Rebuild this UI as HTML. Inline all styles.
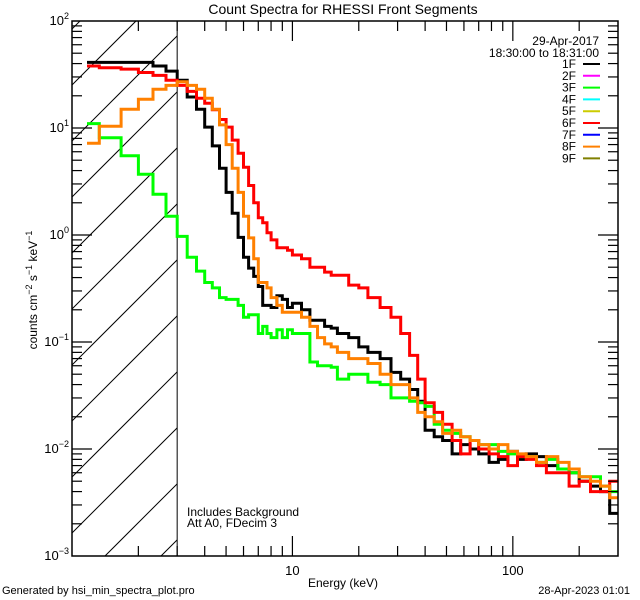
<!DOCTYPE html>
<html><head><meta charset="utf-8"><style>
body{margin:0;background:#fff;overflow:hidden;}
svg{display:block;font-family:"Liberation Sans",sans-serif;}
</style></head><body>
<svg id="chart" width="640" height="600" viewBox="0 0 640 600" xmlns="http://www.w3.org/2000/svg">
<rect width="640" height="600" fill="#fff"/>
<text x="343" y="14" font-size="14" text-anchor="middle">Count Spectra for RHESSI Front Segments</text>
<g id="hatch"></g>
<g id="series"></g>
<g id="axes"></g>
<text x="343" y="587" font-size="12" text-anchor="middle">Energy (keV)</text>
<text transform="translate(37,290) rotate(-90)" font-size="12" text-anchor="middle">counts cm<tspan dy="-5" font-size="9">−2</tspan><tspan dy="5"> s</tspan><tspan dy="-5" font-size="9">−1</tspan><tspan dy="5"> keV</tspan><tspan dy="-5" font-size="9">−1</tspan></text>
<text x="187" y="516" font-size="12">Includes Background</text>
<text x="187" y="527" font-size="12">Att A0, FDecim 3</text>
<text x="2" y="594" font-size="11">Generated by hsi_min_spectra_plot.pro</text>
<text x="630" y="594" font-size="11" text-anchor="end">28-Apr-2023 01:01</text>
<g id="legend">
<text x="599" y="45" font-size="12" text-anchor="end">29-Apr-2017</text>
<text x="599" y="57" font-size="12" text-anchor="end">18:30:00 to 18:31:00</text>
</g>
</svg>
<script>
const edges=[1.17,1.33,1.67,2,2.33,2.67,3,3.33,3.67,4,4.33,4.67,5,5.33,5.67,6,6.33,6.67,7,7.33,7.67,8,8.5,9,9.5,10,11,12,13,14,15,16,18,20,22,25,28,31,34,37,40,44,48,53,58,64,70,78,86,95,105,115,128,142,160,180,200,225,250,275,300];
const black1F=[41,41,41,41,38,34,28,19.5,15,10.2,6.8,4.2,2.5,1.6,0.95,0.62,0.49,0.41,0.33,0.22,0.22,0.21,0.27,0.25,0.21,0.23,0.2,0.16,0.16,0.14,0.135,0.12,0.11,0.09,0.08,0.07,0.052,0.045,0.036,0.028,0.015,0.013,0.012,0.009,0.011,0.01,0.009,0.0075,0.008,0.0095,0.008,0.009,0.0085,0.007,0.0065,0.006,0.005,0.0045,0.004,0.0025];
const green3F=[11,8.1,5.5,3.7,2.4,1.5,0.97,0.62,0.46,0.36,0.32,0.26,0.25,0.25,0.22,0.17,0.18,0.18,0.12,0.14,0.12,0.11,0.13,0.11,0.13,0.12,0.12,0.065,0.06,0.06,0.058,0.045,0.05,0.05,0.042,0.04,0.03,0.03,0.028,0.027,0.025,0.017,0.015,0.014,0.013,0.012,0.011,0.011,0.0095,0.009,0.0085,0.0085,0.0075,0.008,0.0065,0.006,0.0055,0.0055,0.0045,0.004];
const red6F=[38,36.5,35.5,33,31,28,25,22,19,17,14.8,12,10.2,7.7,5.8,4.3,2.9,2.0,1.45,1.3,1.05,0.9,0.76,0.76,0.72,0.65,0.6,0.5,0.5,0.45,0.42,0.42,0.34,0.32,0.26,0.21,0.17,0.12,0.075,0.045,0.027,0.022,0.017,0.012,0.009,0.012,0.01,0.009,0.0085,0.007,0.0085,0.008,0.007,0.006,0.006,0.0045,0.005,0.004,0.004,0.005];
const orange8F=[7.2,10.4,15,18.6,23,25,27,25,23,19,15,10.7,7,4.2,2.5,1.5,0.94,0.6,0.36,0.36,0.32,0.26,0.22,0.19,0.19,0.19,0.17,0.14,0.11,0.096,0.09,0.08,0.07,0.07,0.063,0.05,0.04,0.04,0.03,0.022,0.02,0.018,0.014,0.015,0.013,0.012,0.011,0.01,0.011,0.0095,0.009,0.0085,0.0075,0.0085,0.0075,0.0065,0.0055,0.005,0.0045,0.0035];
const legendLabels=["1F","2F","3F","4F","5F","6F","7F","8F","9F"];
const legendColors=["#000000","#ff00ff","#00ff00","#00ffff","#cccc00","#ff0000","#0000ff","#ff8000","#808000"];
const xTickMajor=[10,100];
const yTickExp=[2,1,0,-1,-2,-3];

const NS="http://www.w3.org/2000/svg";
const L=72,R=618,T=21,B=556,XMIN=1,XMAX=300,YMIN=-3,YMAX=2;
const xs=v=>L+(Math.log10(v)-Math.log10(XMIN))/(Math.log10(XMAX)-Math.log10(XMIN))*(R-L);
const ys=v=>B-(Math.log10(v)-YMIN)/(YMAX-YMIN)*(B-T);
function mk(tag,attrs,parent){const e=document.createElementNS(NS,tag);for(const k in attrs)e.setAttribute(k,attrs[k]);parent.appendChild(e);return e;}

// hatch
const hatch=document.getElementById('hatch');
const xc=xs(3);
for(let c=85-56*2;c<B+(xc-L)+56;c+=56){
  const xa=Math.max(L,L+c-B), xb=Math.min(xc,L+c-T);
  if(xb<=xa)continue;
  const ln=mk('line',{x1:xa,y1:c-(xa-L),x2:xb,y2:c-(xb-L),stroke:'#000','stroke-width':1},hatch);
  
  
}
const vl=mk('line',{x1:xc,y1:T,x2:xc,y2:B,stroke:'#000','stroke-width':1},hatch);



// series
const sg=document.getElementById('series');
function drawSeries(vals,color,name){
  let d='';
  for(let i=0;i<vals.length;i++){
    const x0=xs(edges[i]),x1=xs(edges[i+1]),y=Math.min(B,Math.max(T,ys(vals[i])));
    d+=(i===0?'M':'L')+x0.toFixed(1)+','+y.toFixed(1)+'L'+x1.toFixed(1)+','+y.toFixed(1);
  }
  const p=mk('path',{d:d,fill:'none',stroke:color,'stroke-width':3,'stroke-linejoin':'miter'},sg);
  
  
}
drawSeries(black1F,'#000000','series-1f');
drawSeries(green3F,'#00ff00','series-3f');
drawSeries(red6F,'#ff0000','series-6f');
drawSeries(orange8F,'#ff8000','series-8f');

// axes
const ax=document.getElementById('axes');
mk('rect',{x:L,y:T,width:R-L,height:B-T,fill:'none',stroke:'#000','stroke-width':1.5},ax);
for(let dec=0;dec<3;dec++){for(let m=1;m<10;m++){const v=m*Math.pow(10,dec);if(v<=XMIN||v>=XMAX)continue;
  const x=xs(v),len=(m===1)?20:10;
  const t1=mk('line',{x1:x,y1:B,x2:x,y2:B-len,stroke:'#000','stroke-width':1.2},ax);
  
  
  mk('line',{x1:x,y1:T,x2:x,y2:T+len,stroke:'#000','stroke-width':1.2},ax);
}}
xTickMajor.forEach(v=>{const t=mk('text',{x:xs(v),y:575,'font-size':13,'text-anchor':'middle'},ax);t.textContent=String(v);
  
  });
for(let e=YMIN;e<YMAX;e++){for(let m=1;m<10;m++){const v=m*Math.pow(10,e);const y=ys(v),len=(m===1)?20:10;
  if(m===1&&e===YMIN)continue;
  mk('line',{x1:L,y1:y,x2:L+len,y2:y,stroke:'#000','stroke-width':1.2},ax);
  mk('line',{x1:R,y1:y,x2:R-len,y2:y,stroke:'#000','stroke-width':1.2},ax);
}}
yTickExp.forEach(e=>{const t=mk('text',{x:L-3,y:ys(Math.pow(10,e))+4,'font-size':13,'text-anchor':'end'},ax);
  
  
  t.appendChild(document.createTextNode('10'));
  const s=mk('tspan',{dy:-6,'font-size':9},t);s.textContent=(e<0?'−':'')+Math.abs(e);
});

// legend
const lg=document.getElementById('legend');
legendLabels.forEach((lab,i)=>{const y=64+i*11.8;
  const t=mk('text',{x:576,y:y+4,'font-size':12,'text-anchor':'end'},lg);t.textContent=lab;
  
  
  const l=mk('line',{x1:583,y1:y,x2:600,y2:y,stroke:legendColors[i],'stroke-width':2},lg);
  
  
});
</script>
</body></html>
